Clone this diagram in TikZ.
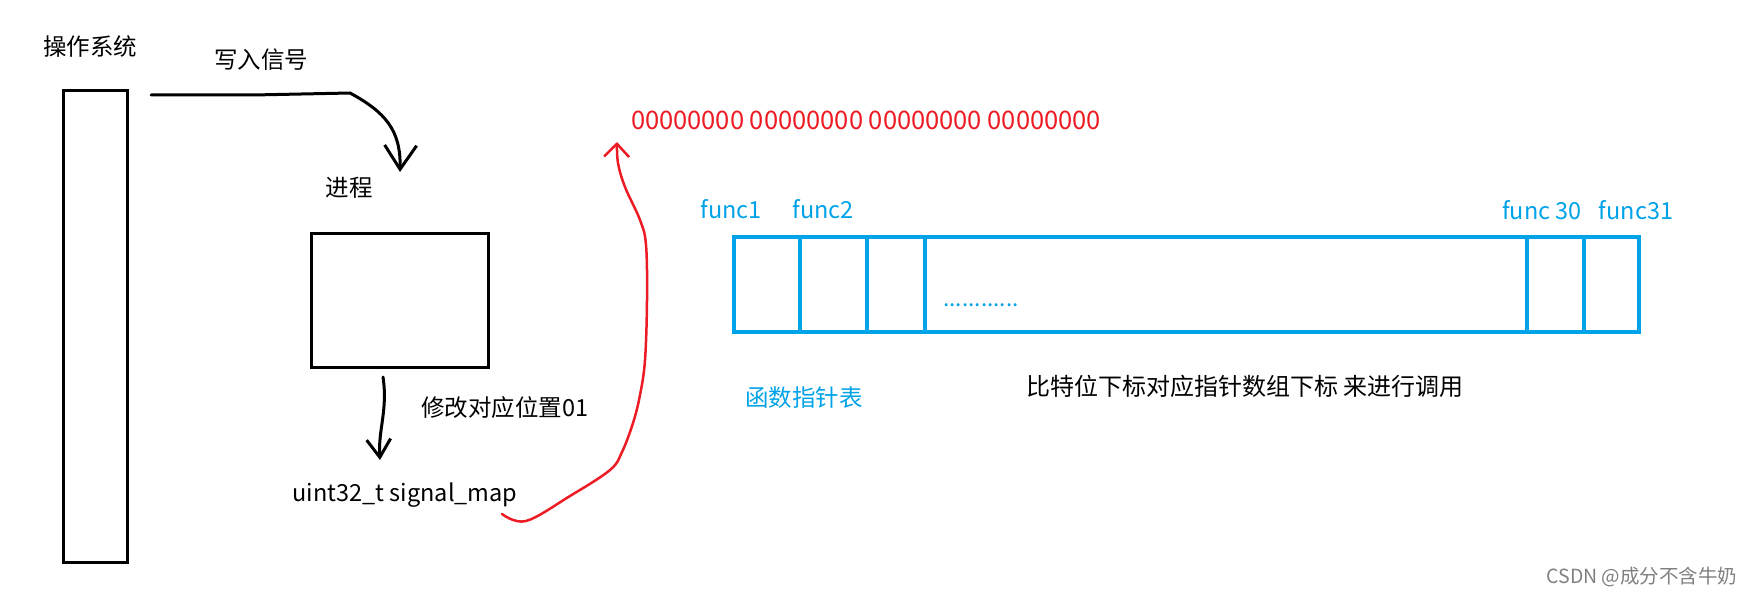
\documentclass[tikz,border=0pt]{standalone}
\usepackage{fontspec}
\setmainfont{Noto Sans CJK SC}
\usetikzlibrary{positioning, arrows.meta}
\definecolor{paintblue}{RGB}{0,162,232}
\definecolor{paintred}{RGB}{237,28,36}

\begin{document}
\begin{tikzpicture}[x=1pt, y=-1pt,
    pen/.style={line width=3pt, line cap=round, line join=round},
    box/.style={draw, line width=3pt, inner sep=0pt, outer sep=0pt, anchor=north west},
    cell/.style={draw=paintblue, line width=3.4pt, inner sep=0pt, outer sep=0pt, anchor=north west, minimum height=95pt},
    lbl/.style={font=\fontsize{23.5}{28}\selectfont, inner sep=0pt},
    bluelbl/.style={lbl, text=paintblue}]
    \useasboundingbox (0,0) rectangle (1758,596);

    % Define the two black boxes (system and process)
    \node (os) [box, minimum width=64pt, minimum height=471pt] at (63,91) {};
    \node (proc) [box, minimum width=177pt, minimum height=134pt] at (311,233) {};

    % Define black labels
    \node (oslbl) [lbl] at (90,47) {操作系统};
    \node (write) [lbl] at (261,60) {写入信号};
    \node (proclbl) [lbl] at (349,188) {进程};
    \node (modify) [lbl] at (505,408) {修改对应位置01};
    \node (sigmap) [lbl] at (405,495) {uint32\_t signal\_map};
    \node (note) [lbl, font=\fontsize{24}{28}\selectfont] at (1245,386) {比特位下标对应指针数组下标 来进行调用};
    \node (bits) [lbl, text=paintred, font=\fontsize{25.5}{30}\selectfont] at (866,120) {00000000 00000000 00000000 00000000};

    % Define the function pointer table (Each slot is a cell)
    \node (cell1) [cell, minimum width=66pt] at (734,237) {};
    \node (cell2) [cell, minimum width=67pt, right=0pt of cell1] {};
    \node (cell3) [cell, minimum width=58pt, right=0pt of cell2] {};
    \node (rest) [cell, minimum width=602pt, right=0pt of cell3] {};
    \node (cell30) [cell, minimum width=57pt, right=0pt of rest] {};
    \node (cell31) [cell, minimum width=55pt, right=0pt of cell30] {};

    % Define blue labels
    \node (f1) [bluelbl] at (731,209) {func1};
    \node (f2) [bluelbl] at (823,209) {func2};
    \node (f30) [bluelbl] at (1542,210) {func 30};
    \node (f31) [bluelbl] at (1636,210) {func31};
    \node (dots) [bluelbl, font=\fontsize{22.5}{27}\selectfont] at (981,305) {............};
    \node (table) [bluelbl] at (804,398) {函数指针表};

    \node (mark) [lbl, text=gray, font=\fontsize{19.5}{23}\selectfont] at (1642,577) {CSDN @成分不含牛奶};

    % Draw the hand drawn arrows
    \coordinate (w0) at (151,95);
    \coordinate (w1) at (400,172);
    \draw[pen, -{Straight Barb[length=24pt, width=32pt]}] (w0) -- (253,95) -- (350,93) .. controls (385,112) and (401,130) .. (w1);

    \coordinate (m0) at (383,377);
    \coordinate (m1) at (380,460);
    \draw[pen, -{Straight Barb[length=18pt, width=24pt]}] (m0) .. controls (388,410) and (378,430) .. (m1);

    % Red arrow from signal_map up to the bits
    \coordinate (r0) at (502,514);
    \coordinate (r1) at (617,142);
    \draw[pen, paintred, line width=2.5pt, -{Straight Barb[length=13pt, width=25pt]}] plot[smooth, tension=0.6] coordinates {(r0) (526,521) (570,496) (610,470) (622,452) (633,423) (640,395) (645,360) (647,300) (646,245) (640,220) (625,187) (618,163) (r1)};

\end{tikzpicture}
\end{document}
